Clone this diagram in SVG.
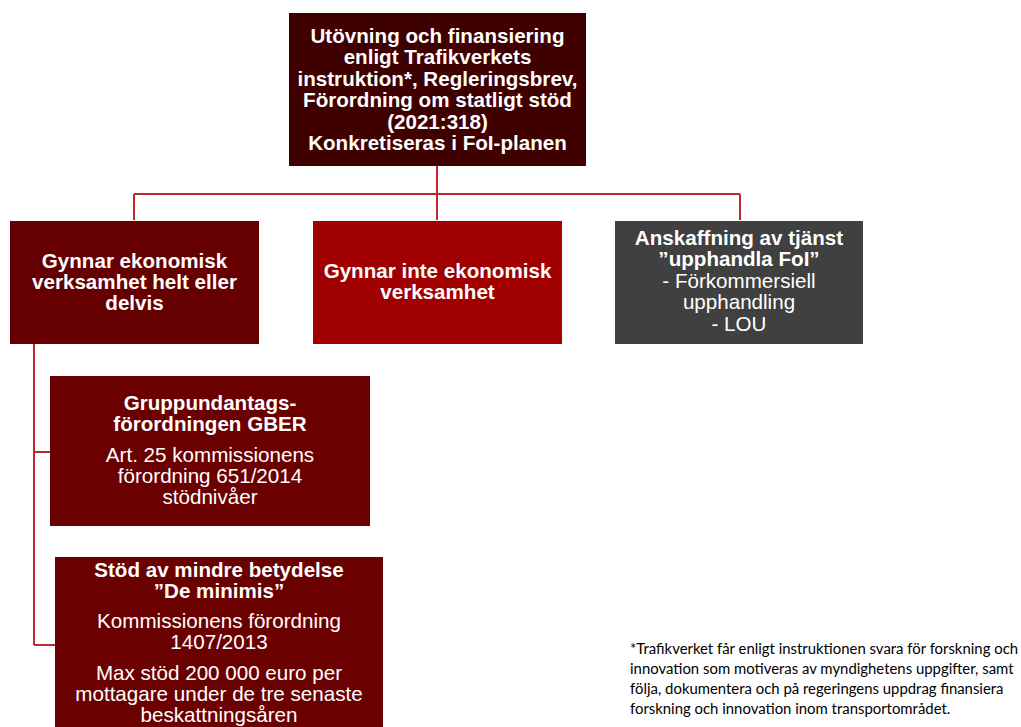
<svg xmlns="http://www.w3.org/2000/svg" width="1021" height="727" viewBox="0 0 1021 727">
<style>
.t{font-family:"Liberation Sans",Arial,sans-serif;fill:#fff;text-anchor:middle;font-size:20.6px}
.b{font-weight:bold}
.c{fill:none;stroke:#c0282d;stroke-width:2}
.n{font-family:Lato,"Liberation Sans",sans-serif;font-size:14.9px;fill:#000}
</style>
<rect width="1021" height="727" fill="#fff"/>
<g id="connectors">
<path class="c" d="M437,166V220M134,194H740M134,194V220M740,194V220"/>
<path class="c" d="M34,344V645M34,452H50M34,645H55"/>
</g>
<g id="top">
<rect x="289" y="13" width="297" height="153" fill="#3f0000"/>
<text class="t b" x="437.5"><tspan x="437.5" y="43">Utövning och finansiering</tspan><tspan x="437.5" y="64">enligt Trafikverkets</tspan><tspan x="437.5" y="86">instruktion*, Regleringsbrev,</tspan><tspan x="437.5" y="107">Förordning om statligt stöd</tspan><tspan x="437.5" y="129">(2021:318)</tspan><tspan x="437.5" y="150">Konkretiseras i FoI-planen</tspan></text>
</g>
<g id="box1">
<rect x="10" y="221" width="249" height="123" fill="#660000"/>
<text class="t b"><tspan x="134.5" y="268">Gynnar ekonomisk</tspan><tspan x="134.5" y="289">verksamhet helt eller</tspan><tspan x="134.5" y="310">delvis</tspan></text>
</g>
<g id="box2">
<rect x="313" y="221" width="249" height="123" fill="#a00000"/>
<text class="t b"><tspan x="437.5" y="278">Gynnar inte ekonomisk</tspan><tspan x="437.5" y="299">verksamhet</tspan></text>
</g>
<g id="box3">
<rect x="615" y="221" width="248" height="123" fill="#404040"/>
<text class="t"><tspan class="b" x="739" y="245">Anskaffning av tjänst</tspan><tspan class="b" x="739" y="266">”upphandla FoI”</tspan><tspan x="739" y="288">- Förkommersiell</tspan><tspan x="739" y="309">upphandling</tspan><tspan x="739" y="331">- LOU</tspan></text>
</g>
<g id="box4">
<rect x="50" y="376" width="320" height="150" fill="#6b0000"/>
<text class="t"><tspan class="b" x="210" y="410">Gruppundantags-</tspan><tspan class="b" x="210" y="431">förordningen GBER</tspan><tspan x="210" y="462">Art. 25 kommissionens</tspan><tspan x="210" y="483">förordning 651/2014</tspan><tspan x="210" y="504">stödnivåer</tspan></text>
</g>
<g id="box5">
<rect x="55" y="557" width="328" height="175" fill="#6b0000"/>
<text class="t"><tspan class="b" x="219" y="577">Stöd av mindre betydelse</tspan><tspan class="b" x="219" y="598">”De minimis”</tspan><tspan x="219" y="628">Kommissionens förordning</tspan><tspan x="219" y="649">1407/2013</tspan><tspan x="219" y="680">Max stöd 200 000 euro per</tspan><tspan x="219" y="701">mottagare under de tre senaste</tspan><tspan x="219" y="722">beskattningsåren</tspan></text>
</g>
<g id="footnote">
<text class="n"><tspan x="630" y="654">*Trafikverket får enligt instruktionen svara för forskning och</tspan><tspan x="630" y="674">innovation som motiveras av myndighetens uppgifter, samt</tspan><tspan x="630" y="694">följa, dokumentera och på regeringens uppdrag finansiera</tspan><tspan x="630" y="714">forskning och innovation inom transportområdet.</tspan></text>
</g>
</svg>
